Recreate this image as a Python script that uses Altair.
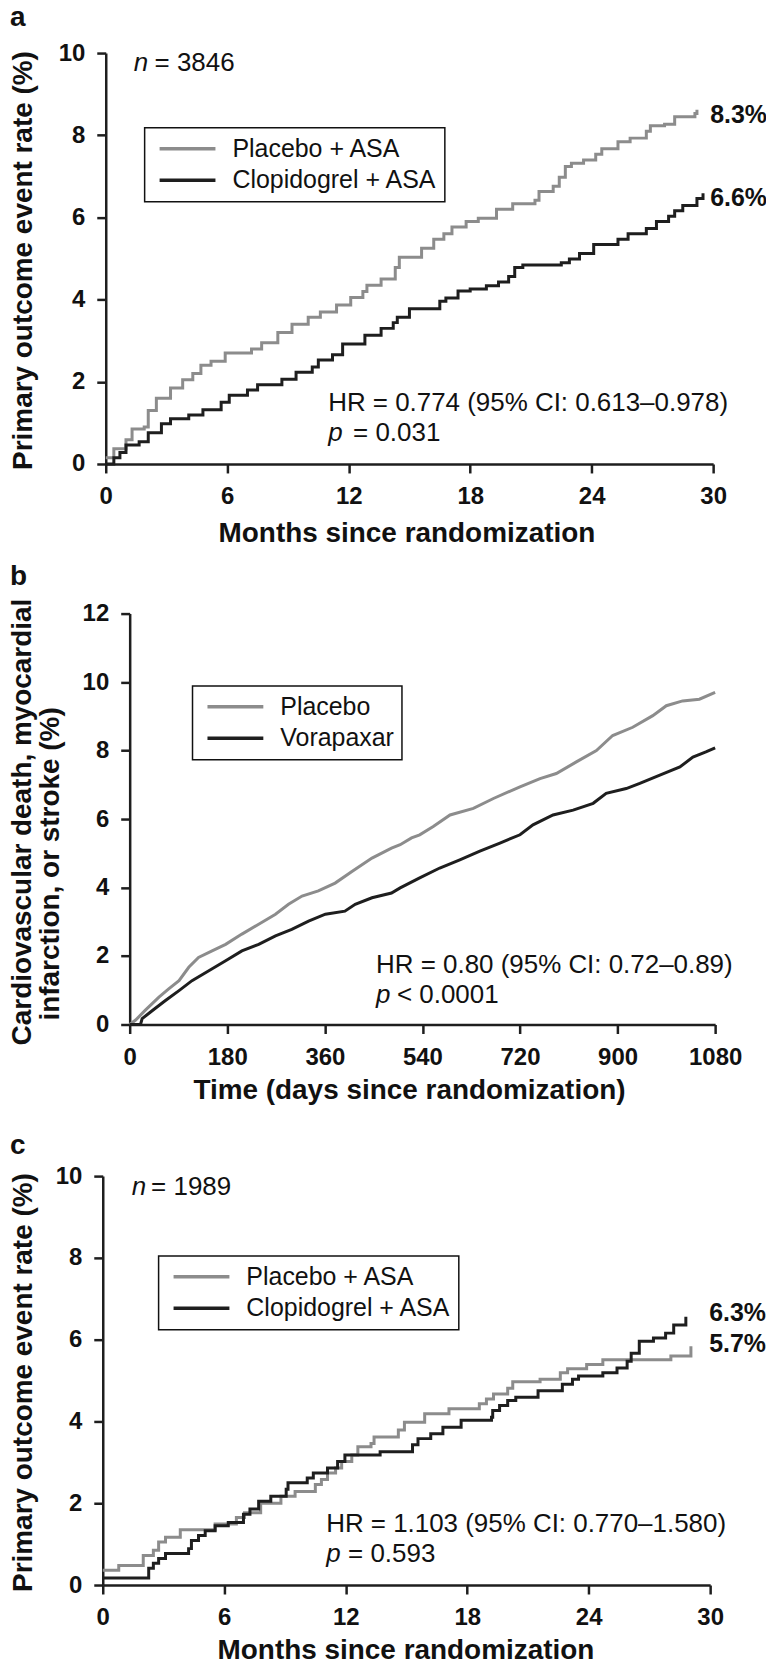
import altair as alt
import pandas as pd

FONT = "Liberation Sans"
GRAY = "#8c8c8c"
DARK = "#1e1e1e"
INK = "#111111"

# ---------------- Panel a (months, %) ----------------
A_NAMES = ["Placebo + ASA", "Clopidogrel + ASA"]
A_PLA_T = [0, 0.4, 1.0, 1.3, 1.9, 2.1, 2.5, 3.2, 3.8, 4.3, 4.7, 5.2, 5.9, 7.2, 7.7, 8.5,
           9.2, 10.0, 10.6, 11.4, 12.1, 12.7, 12.9, 13.6, 14.3, 14.5, 15.6, 16.2, 16.7,
           17.1, 17.8, 18.4, 19.3, 20.1, 21.2, 21.4, 22.1, 22.4, 22.7, 23.0, 23.6, 24.2,
           24.5, 25.3, 25.9, 26.7, 26.9, 27.6, 28.1, 29.1, 29.2]
A_PLA_V = [0.15, 0.37, 0.59, 0.85, 0.9, 1.3, 1.6, 1.85, 2.05, 2.2, 2.4, 2.5, 2.7, 2.8, 2.95,
           3.2, 3.4, 3.57, 3.7, 3.87, 4.05, 4.2, 4.35, 4.5, 4.78, 5.03, 5.25, 5.47, 5.6,
           5.77, 5.9, 5.98, 6.2, 6.33, 6.42, 6.63, 6.76, 6.98, 7.24, 7.32, 7.4, 7.54, 7.67,
           7.84, 7.93, 8.1, 8.23, 8.27, 8.45, 8.53, 8.62]
A_CLO_T = [0, 0.4, 0.7, 1.0, 1.65, 2.1, 2.75, 3.2, 4.1, 4.8, 5.7, 6.1, 7.0, 7.5, 8.7, 9.4,
           10.2, 10.5, 11.2, 11.7, 12.8, 13.6, 14.2, 14.4, 15.0, 16.5, 16.8, 17.4, 18.0,
           18.8, 19.4, 19.9, 20.2, 20.6, 22.5, 22.9, 23.4, 24.1, 25.3, 25.8, 26.7, 27.2,
           27.8, 28.1, 28.5, 29.2, 29.5]
A_CLO_V = [0.0, 0.15, 0.28, 0.46, 0.54, 0.76, 0.98, 1.1, 1.19, 1.32, 1.5, 1.67, 1.8, 1.93,
           2.06, 2.23, 2.36, 2.53, 2.66, 2.92, 3.13, 3.3, 3.44, 3.57, 3.78, 3.96, 4.04,
           4.21, 4.26, 4.34, 4.43, 4.56, 4.78, 4.84, 4.9, 4.99, 5.12, 5.34, 5.47, 5.6,
           5.73, 5.9, 6.03, 6.16, 6.29, 6.46, 6.59]
A_XTICKS = [0, 6, 12, 18, 24, 30]
A_YTICKS = [0, 2, 4, 6, 8, 10]

# ---------------- Panel b (days, %) ----------------
B_NAMES = ["Placebo", "Vorapaxar"]
B_PLA_T = [0, 11, 29, 54, 72, 91, 109, 127, 152, 177, 207, 238, 269, 293, 318, 348, 379,
           410, 447, 483, 499, 520, 535, 560, 591, 634, 671, 720, 757, 787, 824, 861, 891,
           928, 965, 990, 1020, 1051, 1080]
B_PLA_V = [0, 0.13, 0.42, 0.8, 1.04, 1.28, 1.67, 1.96, 2.15, 2.34, 2.64, 2.93, 3.22, 3.51,
           3.75, 3.9, 4.13, 4.47, 4.86, 5.15, 5.25, 5.45, 5.54, 5.78, 6.12, 6.31, 6.6,
           6.94, 7.18, 7.33, 7.67, 8.0, 8.44, 8.68, 9.02, 9.31, 9.45, 9.5, 9.7]
B_VOR_T = [0, 20, 23, 42, 66, 91, 115, 146, 177, 207, 238, 269, 299, 330, 361, 397, 416,
           447, 483, 499, 535, 572, 609, 646, 683, 720, 744, 781, 818, 855, 879, 916, 941,
           978, 1015, 1039, 1063, 1080]
B_VOR_V = [0, 0, 0.17, 0.41, 0.7, 0.99, 1.28, 1.57, 1.86, 2.15, 2.34, 2.59, 2.78, 3.02,
           3.22, 3.31, 3.51, 3.7, 3.84, 3.99, 4.28, 4.57, 4.81, 5.06, 5.3, 5.54, 5.83,
           6.12, 6.26, 6.46, 6.75, 6.89, 7.04, 7.28, 7.52, 7.81, 7.96, 8.08]
B_XTICKS = [0, 180, 360, 540, 720, 900, 1080]
B_YTICKS = [0, 2, 4, 6, 8, 10, 12]

# ---------------- Panel c (months, %) ----------------
C_NAMES = ["Placebo + ASA", "Clopidogrel + ASA"]
C_PLA_T = [0, 0.79, 2.0, 2.5, 2.76, 3.1, 3.83, 5.55, 6.6, 7.0, 7.8, 8.8, 9.5, 10.5, 10.8,
           11.1, 11.5, 11.8, 12.3, 12.6, 13.25, 13.4, 14.6, 14.9, 15.9, 17.1, 18.6, 18.95,
           19.3, 20.0, 20.25, 21.6, 22.6, 22.96, 23.9, 24.7, 28.06, 29.05]
C_PLA_V = [0.36, 0.48, 0.72, 0.85, 1.05, 1.17, 1.35, 1.49, 1.65, 1.77, 2.0, 2.17, 2.29,
           2.46, 2.58, 2.74, 2.86, 3.02, 3.18, 3.38, 3.46, 3.62, 3.79, 3.98, 4.19, 4.31,
           4.43, 4.55, 4.67, 4.81, 4.97, 5.03, 5.19, 5.29, 5.39, 5.51, 5.6, 5.84]
C_CLO_T = [0, 2.27, 2.5, 2.76, 3.1, 4.24, 4.38, 4.73, 5.06, 5.55, 6.2, 6.95, 7.27, 7.7,
           8.3, 9.06, 9.15, 10.1, 10.4, 11.1, 11.6, 11.96, 13.7, 15.3, 15.57, 16.2, 16.8,
           17.7, 19.2, 19.26, 19.6, 20.0, 20.4, 21.5, 22.7, 23.2, 23.5, 24.7, 25.4, 25.9,
           26.1, 26.5, 27.2, 27.8, 28.2, 28.8]
C_CLO_V = [0.17, 0.41, 0.53, 0.65, 0.77, 0.89, 1.09, 1.21, 1.33, 1.45, 1.53, 1.73, 1.86,
           2.05, 2.17, 2.34, 2.5, 2.62, 2.74, 2.86, 3.02, 3.18, 3.26, 3.43, 3.58, 3.7, 3.86,
           4.03, 4.1, 4.27, 4.39, 4.51, 4.59, 4.75, 4.91, 5.03, 5.11, 5.19, 5.31, 5.47,
           5.67, 5.96, 6.04, 6.16, 6.36, 6.56]
C_XTICKS = [0, 6, 12, 18, 24, 30]
C_YTICKS = [0, 2, 4, 6, 8, 10]


def long_df(names, series):
    rows = []
    for name, (ts, vs) in zip(names, series):
        for t, v in zip(ts, vs):
            rows.append({"series": name, "t": t, "v": v})
    return pd.DataFrame(rows)


W = 614
HA, HB, HC = 412, 412, 410


def txt(text, x, y, size=26, weight="normal", style="normal", align="left",
        baseline="middle", angle=0):
    return alt.Chart(alt.Data(values=[{}])).mark_text(
        text=text, align=align, baseline=baseline, font=FONT, fontSize=size,
        fontWeight=weight, fontStyle=style, color=INK, angle=angle
    ).encode(x=alt.value(x), y=alt.value(y))


def letter(ch, y):
    return txt(ch, -93, y, size=28, weight="bold", baseline="alphabetic")


def ytitle(text, x, y):
    return txt(text, x, y, size=28, weight="bold", align="center", angle=270)


def xtitle(text, x, y):
    return txt(text, x, y, size=28, weight="bold", align="center", baseline="alphabetic")


def spacer(y):
    # invisible guide that only reserves vertical room below a panel
    return alt.Chart(alt.Data(values=[{}])).mark_rule(strokeOpacity=0, strokeWidth=1).encode(
        x=alt.value(0), x2=alt.value(10), y=alt.value(y))


def panel(df, names, xdom, xrange_px, xticks, ydom, yticks, yoffset, height,
          legx, legy, interp, extras):
    lines = alt.Chart(df).mark_line(interpolate=interp, strokeWidth=3).encode(
        x=alt.X("t:Q",
                scale=alt.Scale(domain=xdom, range=xrange_px, nice=False, zero=False),
                axis=alt.Axis(values=xticks, title=None, labelFlush=False, format="d",
                              labelOverlap=False)),
        y=alt.Y("v:Q", scale=alt.Scale(domain=ydom, nice=False),
                axis=alt.Axis(values=yticks, title=None, offset=yoffset)),
        color=alt.Color("series:N", sort=names,
                        scale=alt.Scale(domain=names, range=[GRAY, DARK]),
                        legend=alt.Legend(title=None, orient="none", legendX=legx,
                                          legendY=legy, symbolType="stroke",
                                          symbolSize=3136, symbolStrokeWidth=3.5,
                                          clipHeight=26, rowPadding=5.5, padding=8,
                                          symbolOffset=5, labelOffset=15, labelLimit=400,
                                          labelFont=FONT, labelFontSize=25,
                                          labelColor=INK, strokeColor=INK,
                                          fillColor="white")),
    )
    return alt.layer(lines, *extras).properties(width=W, height=height).resolve_scale(
        color="independent")


dfa = long_df(A_NAMES, [(A_PLA_T, A_PLA_V), (A_CLO_T, A_CLO_V)])
dfb = long_df(B_NAMES, [(B_PLA_T, B_PLA_V), (B_VOR_T, B_VOR_V)])
dfc = long_df(C_NAMES, [(C_PLA_T, C_PLA_V), (C_CLO_T, C_CLO_V)])

extras_a = [
    letter("a", -27),
    ytitle("Primary outcome event rate (%)", -79, 208),
    xtitle("Months since randomization", 305, HA + 78.4),
    txt("n", 31, 10, style="italic"), txt("= 3846", 52, 10),
    txt("HR = 0.774 (95% CI: 0.613\u20130.978)", 226, 351),
    txt("p", 226, 381, style="italic"), txt("= 0.031", 251, 381),
    txt("8.3%", 609, 62, size=25, weight="bold"),
    txt("6.6%", 609, 145, size=25, weight="bold"),
]
extras_b = [
    letter("b", -29),
    ytitle("Cardiovascular death, myocardial", -80, 209),
    ytitle("infarction, or stroke (%)", -52, 251),
    xtitle("Time (days since randomization)", 307.5, HB + 74.5),
    txt("HR = 0.80 (95% CI: 0.72\u20130.89)", 274, 352),
    txt("p", 274, 382, style="italic"), txt("< 0.0001", 295, 382),
    spacer(HB + 93.5),
]
extras_c = [
    letter("c", -22),
    ytitle("Primary outcome event rate (%)", -79, 207),
    xtitle("Months since randomization", 304, HC + 74.6),
    txt("n", 29, 11, style="italic"), txt("= 1989", 48.5, 11),
    txt("HR = 1.103 (95% CI: 0.770\u20131.580)", 224, 349),
    txt("p", 224, 379, style="italic"), txt("= 0.593", 246, 379),
    txt("6.3%", 608, 137.5, size=25, weight="bold"),
    txt("5.7%", 608, 168.5, size=25, weight="bold"),
]

pa = panel(dfa, A_NAMES, [0, 30], [3, 612], A_XTICKS, [0, 10], A_YTICKS, -3, HA,
           42, 75, "step-after", extras_a)
pb = panel(dfb, B_NAMES, [0, 1080], [27, 614], B_XTICKS, [0, 12], B_YTICKS, -27, HB,
           90, 72.5, "linear", extras_b)
pc = panel(dfc, C_NAMES, [0, 30], [0, 609], C_XTICKS, [0, 10], C_YTICKS, 0, HC,
           56, 80, "step-after", extras_c)

chart = alt.vconcat(pa, pb, pc, spacing=13).resolve_scale(color="independent").properties(
    padding={"left": 0, "top": -7, "right": -2, "bottom": -6},
    background="white",
).configure_view(stroke="transparent").configure_axis(
    grid=False, domainColor=DARK, domainWidth=2.5, tickColor=DARK, tickWidth=2.5,
    tickSize=9, labelFont=FONT, labelFontSize=24, labelFontWeight="bold",
    labelColor=INK, labelPadding=12,
).configure_legend(strokeWidth=1.5)

chart.save("out.html", embed_options={"renderer": "svg", "actions": False})
